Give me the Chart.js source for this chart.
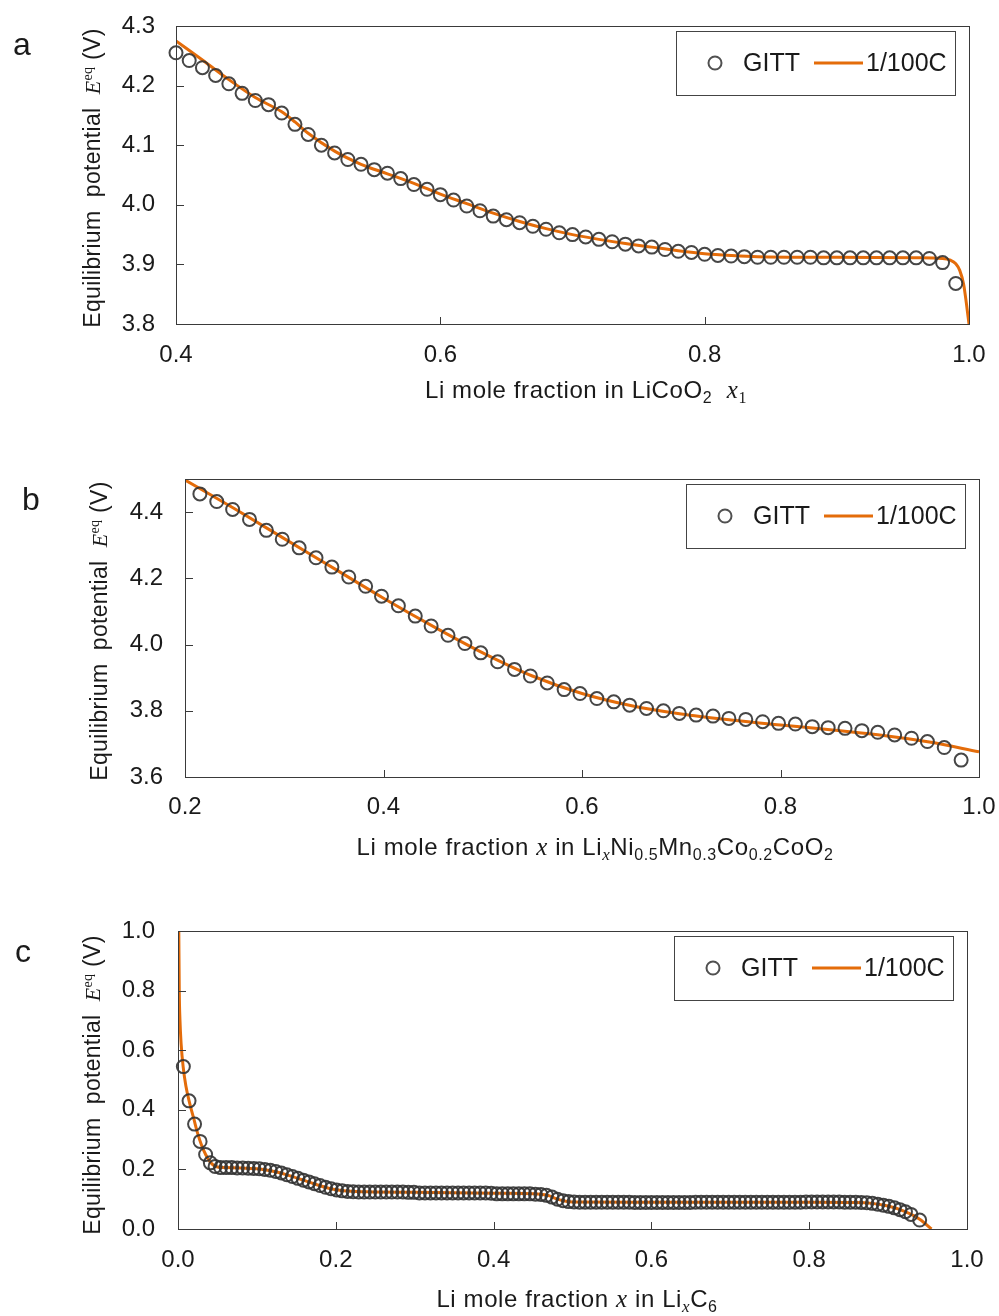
<!DOCTYPE html>
<html lang="en">
<head>
    <meta charset="UTF-8">
    <title>Equilibrium potential: GITT vs 1/100C</title>
    <script src="https://cdn.jsdelivr.net/npm/chart.js"></script>
    <style>
        body {
            margin: 0;
            background: #fff;
        }
        #wrap {
            position: relative;
            width: 999px;
            height: 1316px;
        }
        #wrap canvas {
            position: absolute;
            left: 0;
        }
    </style>
</head>
<body>
    <div id="wrap">
        <canvas id="chartA" width="999" height="440" style="top:0px"></canvas>
        <canvas id="chartB" width="999" height="440" style="top:440px"></canvas>
        <canvas id="chartC" width="999" height="436" style="top:880px"></canvas>
    </div>

    <script>
        // (a) LiCoO2
        const aGittX = [0.40, 0.41, 0.42, 0.43, 0.44, 0.45, 0.46, 0.47, 0.48, 0.49,
                        0.50, 0.51, 0.52, 0.53, 0.54, 0.55, 0.56, 0.57, 0.58, 0.59,
                        0.60, 0.61, 0.62, 0.63, 0.64, 0.65, 0.66, 0.67, 0.68, 0.69,
                        0.70, 0.71, 0.72, 0.73, 0.74, 0.75, 0.76, 0.77, 0.78, 0.79,
                        0.80, 0.81, 0.82, 0.83, 0.84, 0.85, 0.86, 0.87, 0.88, 0.89,
                        0.90, 0.91, 0.92, 0.93, 0.94, 0.95, 0.96, 0.97, 0.98, 0.99];
        const aGittY = [4.255, 4.242, 4.230, 4.217, 4.203, 4.187, 4.175, 4.168, 4.154, 4.135,
                        4.118, 4.100, 4.087, 4.076, 4.068, 4.059, 4.053, 4.044, 4.034, 4.026,
                        4.017, 4.008, 3.998, 3.990, 3.981, 3.975, 3.970, 3.964, 3.959, 3.953,
                        3.950, 3.946, 3.942, 3.938, 3.934, 3.931, 3.929, 3.925, 3.922, 3.920,
                        3.917, 3.915, 3.914, 3.913, 3.912, 3.912, 3.912, 3.912, 3.912, 3.911,
                        3.911, 3.911, 3.911, 3.911, 3.911, 3.911, 3.911, 3.910, 3.903, 3.868];
        const aFitX = [0.400, 0.420, 0.440, 0.460, 0.480, 0.490, 0.500, 0.520, 0.540, 0.560,
                       0.580, 0.600, 0.620, 0.640, 0.660, 0.680, 0.700, 0.720, 0.740, 0.760,
                       0.780, 0.800, 0.820, 0.840, 0.900, 0.960, 0.980, 0.986, 0.990, 0.993,
                       0.996, 0.998, 1.000];
        const aFitY = [4.275, 4.243, 4.210, 4.180, 4.156, 4.139, 4.120, 4.090, 4.068, 4.052,
                       4.036, 4.018, 4.002, 3.986, 3.972, 3.960, 3.950, 3.942, 3.935, 3.929,
                       3.923, 3.918, 3.915, 3.913, 3.912, 3.911, 3.910, 3.907, 3.901, 3.890,
                       3.866, 3.835, 3.800];

        // (b) NMC532
        const bGittX = [0.215, 0.232, 0.248, 0.265, 0.282, 0.298, 0.315, 0.332, 0.348, 0.365,
                        0.382, 0.398, 0.415, 0.432, 0.448, 0.465, 0.482, 0.498, 0.515, 0.532,
                        0.548, 0.565, 0.582, 0.598, 0.615, 0.632, 0.648, 0.665, 0.682, 0.698,
                        0.715, 0.732, 0.748, 0.765, 0.782, 0.798, 0.815, 0.832, 0.848, 0.865,
                        0.882, 0.898, 0.915, 0.932, 0.948, 0.965, 0.982];
        const bGittY = [4.455, 4.432, 4.408, 4.378, 4.345, 4.318, 4.292, 4.262, 4.234, 4.204,
                        4.176, 4.146, 4.117, 4.086, 4.056, 4.028, 4.003, 3.975, 3.948, 3.925,
                        3.905, 3.884, 3.864, 3.852, 3.837, 3.827, 3.817, 3.807, 3.800, 3.792,
                        3.787, 3.784, 3.777, 3.774, 3.767, 3.762, 3.760, 3.752, 3.749, 3.747,
                        3.740, 3.735, 3.727, 3.717, 3.707, 3.689, 3.651];
        const bFitX = [0.200, 0.250, 0.300, 0.350, 0.400, 0.450, 0.500, 0.550, 0.600,
                       0.650, 0.700, 0.750, 0.800, 0.850, 0.900, 0.950, 1.000];
        const bFitY = [4.497, 4.410, 4.320, 4.230, 4.140, 4.055, 3.975, 3.905, 3.852,
                       3.815, 3.790, 3.772, 3.757, 3.743, 3.727, 3.706, 3.676];

        // (c) graphite
        const cGittX = [0.0068, 0.014, 0.021, 0.028, 0.035, 0.041, 0.047,
                        0.054, 0.061, 0.068, 0.075, 0.082, 0.089, 0.096, 0.103,
                        0.110, 0.117, 0.124, 0.131, 0.138, 0.145, 0.152, 0.159,
                        0.166, 0.173, 0.180, 0.187, 0.194, 0.201, 0.208, 0.215,
                        0.222, 0.229, 0.236, 0.243, 0.250, 0.257, 0.264, 0.271, 0.278, 0.285, 0.292, 0.299,
                        0.306, 0.313, 0.320, 0.327, 0.334, 0.341, 0.348, 0.355, 0.362, 0.369, 0.376, 0.383, 0.390, 0.397,
                        0.404, 0.411, 0.418, 0.425, 0.432, 0.439, 0.446, 0.453, 0.460,
                        0.467, 0.474, 0.481, 0.488, 0.495, 0.502,
                        0.509, 0.516, 0.523, 0.530, 0.537, 0.544, 0.551, 0.558, 0.565, 0.572,
                        0.579, 0.586, 0.593, 0.600, 0.607, 0.614, 0.621, 0.628, 0.635, 0.642,
                        0.649, 0.656, 0.663, 0.670, 0.677, 0.684, 0.691, 0.698, 0.705, 0.712,
                        0.719, 0.726, 0.733, 0.740, 0.747, 0.754, 0.761, 0.768, 0.775, 0.782,
                        0.789, 0.796, 0.803, 0.810, 0.817, 0.824, 0.831, 0.838, 0.845, 0.852,
                        0.859, 0.866,
                        0.873, 0.880, 0.887, 0.894, 0.901, 0.908, 0.915, 0.922, 0.929, 0.940];
        const cGittY = [0.545, 0.430, 0.352, 0.294, 0.250, 0.222, 0.210,
                        0.206, 0.206, 0.206, 0.205, 0.205, 0.204, 0.203, 0.202,
                        0.200, 0.197, 0.193, 0.188, 0.182, 0.176, 0.170, 0.164,
                        0.158, 0.152, 0.146, 0.140, 0.135, 0.131, 0.128, 0.126,
                        0.125, 0.124, 0.124, 0.124, 0.124, 0.124, 0.124, 0.124, 0.124, 0.124, 0.123, 0.123,
                        0.121, 0.121, 0.121, 0.121, 0.121, 0.121, 0.121, 0.121, 0.121, 0.121, 0.121, 0.121, 0.121, 0.120,
                        0.118, 0.118, 0.118, 0.118, 0.118, 0.118, 0.118, 0.117, 0.116,
                        0.113, 0.107, 0.100, 0.095, 0.092, 0.091,
                        0.090, 0.090, 0.090, 0.090, 0.090, 0.090, 0.090, 0.090, 0.090, 0.090,
                        0.089, 0.089, 0.089, 0.089, 0.089, 0.089, 0.089, 0.089, 0.089, 0.089,
                        0.089, 0.090, 0.090, 0.090, 0.090, 0.090, 0.090, 0.090, 0.090, 0.090,
                        0.090, 0.090, 0.090, 0.090, 0.090, 0.090, 0.090, 0.090, 0.090, 0.090,
                        0.090, 0.091, 0.091, 0.091, 0.091, 0.091, 0.091, 0.091, 0.090, 0.090,
                        0.090, 0.089,
                        0.088, 0.086, 0.083, 0.080, 0.076, 0.071, 0.065, 0.058, 0.049, 0.030];
        const cFitX = [0.0010, 0.0016, 0.0025, 0.0040, 0.0065, 0.010, 0.015, 0.020, 0.025,
                       0.030, 0.035, 0.040, 0.045, 0.050, 0.060, 0.080, 0.100, 0.110, 0.125,
                       0.140, 0.160, 0.180, 0.195, 0.210, 0.240, 0.300, 0.400, 0.460, 0.470,
                       0.480, 0.490, 0.500, 0.600, 0.700, 0.800, 0.860, 0.880, 0.900, 0.920,
                       0.940, 0.955];
        const cFitY = [1.000, 0.800, 0.700, 0.620, 0.545, 0.480, 0.420, 0.370, 0.320,
                       0.280, 0.250, 0.228, 0.214, 0.208, 0.206, 0.205, 0.202, 0.199, 0.191,
                       0.180, 0.163, 0.145, 0.134, 0.128, 0.125, 0.123, 0.120, 0.117, 0.112,
                       0.101, 0.094, 0.091, 0.090, 0.090, 0.090, 0.089, 0.086, 0.077, 0.060,
                       0.033, 0.000];

        const SANS = '"Liberation Sans", Arial, sans-serif';
        const SERIF = '"Liberation Serif", "Times New Roman", serif';
        const TEXT = '#1a1a1a';
        const FRAME = '#3a3a3a';
        const ORANGE = '#E46C0A';
        const CIRCLE = 'rgba(50, 50, 50, 0.9)';
        const TICK_SIZE = 24;
        const TITLE_SIZE = 24;
        const YTITLE_SIZE = 23;

        function fontOf(s) {
            return (s.italic ? 'italic ' : '') + s.size + 'px ' + (s.serif ? SERIF : SANS);
        }

        // draws a row of mixed-font pieces (sub/superscripts via dy)
        function drawRich(ctx, segs, x, y, align, spacing) {
            ctx.letterSpacing = (spacing || 0) + 'px';
            let w = 0;
            segs.forEach(s => { ctx.font = fontOf(s); w += ctx.measureText(s.t).width; });
            let cx = align === 'center' ? x - w / 2 : x;
            segs.forEach(s => {
                ctx.font = fontOf(s);
                ctx.fillText(s.t, cx, y + (s.dy || 0));
                cx += ctx.measureText(s.t).width;
            });
            ctx.letterSpacing = '0px';
        }

        const yTitleSegs = [
            { t: 'Equilibrium  potential  ', size: YTITLE_SIZE },
            { t: 'E', size: 22, serif: true, italic: true },
            { t: 'eq', size: 14, serif: true, dy: -8 },
            { t: ' (V)', size: YTITLE_SIZE }
        ];

        const decor = {
            id: 'decor',
            afterDraw(chart, args, o) {
                const ctx = chart.ctx;
                const ca = chart.chartArea;
                const xs = chart.scales.x, ys = chart.scales.y;
                const near = (a, b) => Math.abs(a - b) < 1e-9;
                ctx.save();

                // inward tick marks
                ctx.strokeStyle = FRAME;
                ctx.lineWidth = 1;
                ctx.beginPath();
                xs.ticks.forEach(t => {
                    if (near(t.value, xs.min) || near(t.value, xs.max)) return;
                    const px = Math.round(xs.getPixelForValue(t.value)) + 0.5;
                    ctx.moveTo(px, ca.bottom);
                    ctx.lineTo(px, ca.bottom - 7);
                });
                ys.ticks.forEach(t => {
                    if (near(t.value, ys.min) || near(t.value, ys.max)) return;
                    const py = Math.round(ys.getPixelForValue(t.value)) + 0.5;
                    ctx.moveTo(ca.left, py);
                    ctx.lineTo(ca.left + 8, py);
                });
                ctx.stroke();

                // plot frame
                ctx.strokeRect(ca.left + 0.5, ca.top + 0.5, ca.right - ca.left, ca.bottom - ca.top);

                // legend box
                const bw = 279, bh = 64;
                const bx = ca.right - 14 - bw, by = ca.top + 5;
                ctx.strokeStyle = '#444';
                ctx.strokeRect(bx + 0.5, by + 0.5, bw, bh);
                const my = by + bh / 2;
                ctx.strokeStyle = '#505050';
                ctx.lineWidth = 2;
                ctx.beginPath();
                ctx.arc(bx + 39, my, 6.5, 0, Math.PI * 2);
                ctx.stroke();
                ctx.strokeStyle = ORANGE;
                ctx.lineWidth = 3;
                ctx.beginPath();
                ctx.moveTo(bx + 138, my);
                ctx.lineTo(bx + 187, my);
                ctx.stroke();
                ctx.fillStyle = TEXT;
                ctx.font = '25px ' + SANS;
                ctx.textBaseline = 'middle';
                ctx.fillText('GITT', bx + 67, my + 1);
                ctx.fillText('1/100C', bx + 190, my + 1);

                // panel letter
                ctx.textBaseline = 'alphabetic';
                ctx.font = '32px ' + SANS;
                ctx.fillText(o.letter, o.letterX, o.letterY);

                // axis titles
                drawRich(ctx, o.xTitle, o.xTitleX, o.xTitleY, 'center', 0.6);
                ctx.save();
                ctx.translate(o.yTitleX, o.yTitleY);
                ctx.rotate(-Math.PI / 2);
                drawRich(ctx, yTitleSegs, 0, 0, 'center', 0.3);
                ctx.restore();

                ctx.restore();
            }
        };

        function toPoints(xs, ys) {
            return xs.map((x, i) => ({ x: x, y: ys[i] }));
        }

        function makePanel(id, p) {
            const tickFont = { family: SANS, size: TICK_SIZE };
            new Chart(document.getElementById(id), {
                type: 'scatter',
                data: {
                    datasets: [{
                        label: 'GITT',
                        data: toPoints(p.gittX, p.gittY),
                        showLine: false,
                        pointStyle: 'circle',
                        pointRadius: 6.5,
                        pointBorderWidth: 2,
                        pointBorderColor: CIRCLE,
                        pointBackgroundColor: 'rgba(0,0,0,0)',
                        clip: false
                    }, {
                        label: '1/100C',
                        data: toPoints(p.fitX, p.fitY),
                        showLine: true,
                        pointRadius: 0,
                        borderColor: ORANGE,
                        borderWidth: 3,
                        cubicInterpolationMode: 'monotone'
                    }]
                },
                options: {
                    responsive: false,
                    animation: false,
                    events: [],
                    layout: { padding: { top: p.padTop, right: p.padRight, bottom: 0, left: 0 } },
                    plugins: {
                        legend: { display: false },
                        tooltip: { enabled: false },
                        decor: p.decor
                    },
                    scales: {
                        x: {
                            type: 'linear',
                            min: p.xMin, max: p.xMax,
                            grid: { display: false, drawTicks: false },
                            border: { display: false },
                            ticks: {
                                stepSize: 0.2, font: tickFont, color: TEXT, padding: p.xPad,
                                maxRotation: 0, autoSkip: false,
                                callback: v => v.toFixed(1)
                            },
                            // fixed axis band, no extra room for edge labels
                            afterFit: s => { s.height = p.xH; s.paddingLeft = 0; s.paddingRight = 0; }
                        },
                        y: {
                            min: p.yMin, max: p.yMax,
                            grid: { display: false, drawTicks: false },
                            border: { display: false },
                            ticks: {
                                stepSize: p.yStep, font: tickFont, color: TEXT, padding: p.yPad,
                                includeBounds: false, autoSkip: false,
                                callback: v => v.toFixed(1)
                            },
                            afterFit: s => { s.width = p.yW; s.paddingTop = 0; s.paddingBottom = 0; }
                        }
                    }
                },
                plugins: [decor]
            });
        }

        makePanel('chartA', {
            gittX: aGittX, gittY: aGittY, fitX: aFitX, fitY: aFitY,
            xMin: 0.4, xMax: 1.0, yMin: 3.8, yMax: 4.3, yStep: 0.1,
            padTop: 26, padRight: 30, yW: 176, xH: 116, xPad: 17, yPad: 21,
            decor: {
                letter: 'a', letterX: 13, letterY: 55,
                yTitleX: 100, yTitleY: 178,
                xTitleX: 586, xTitleY: 398,
                xTitle: [
                    { t: 'Li mole fraction in LiCoO', size: TITLE_SIZE },
                    { t: '2', size: 16, dy: 5 },
                    { t: '  ', size: TITLE_SIZE },
                    { t: 'x', size: 25, serif: true, italic: true },
                    { t: '1', size: 16, serif: true, dy: 5 }
                ]
            }
        });

        makePanel('chartB', {
            gittX: bGittX, gittY: bGittY, fitX: bFitX, fitY: bFitY,
            xMin: 0.2, xMax: 1.0, yMin: 3.6, yMax: 4.5, yStep: 0.2,
            padTop: 39, padRight: 20, yW: 185, xH: 103, xPad: 16, yPad: 22,
            decor: {
                letter: 'b', letterX: 22, letterY: 70,
                yTitleX: 107, yTitleY: 191,
                xTitleX: 595, xTitleY: 415,
                xTitle: [
                    { t: 'Li mole fraction ', size: TITLE_SIZE },
                    { t: 'x', size: 25, serif: true, italic: true },
                    { t: ' in Li', size: TITLE_SIZE },
                    { t: 'x', size: 17, serif: true, italic: true, dy: 5 },
                    { t: 'Ni', size: TITLE_SIZE },
                    { t: '0.5', size: 16, dy: 5 },
                    { t: 'Mn', size: TITLE_SIZE },
                    { t: '0.3', size: 16, dy: 5 },
                    { t: 'Co', size: TITLE_SIZE },
                    { t: '0.2', size: 16, dy: 5 },
                    { t: 'CoO', size: TITLE_SIZE },
                    { t: '2', size: 16, dy: 5 }
                ]
            }
        });

        makePanel('chartC', {
            gittX: cGittX, gittY: cGittY, fitX: cFitX, fitY: cFitY,
            xMin: 0.0, xMax: 1.0, yMin: 0.0, yMax: 1.0, yStep: 0.2,
            padTop: 51, padRight: 32, yW: 178, xH: 87, xPad: 17, yPad: 23,
            decor: {
                letter: 'c', letterX: 15, letterY: 82,
                yTitleX: 100, yTitleY: 205,
                xTitleX: 577, xTitleY: 427,
                xTitle: [
                    { t: 'Li mole fraction ', size: TITLE_SIZE },
                    { t: 'x', size: 25, serif: true, italic: true },
                    { t: ' in Li', size: TITLE_SIZE },
                    { t: 'x', size: 17, serif: true, italic: true, dy: 5 },
                    { t: 'C', size: TITLE_SIZE },
                    { t: '6', size: 16, dy: 5 }
                ]
            }
        });
    </script>
</body>
</html>
